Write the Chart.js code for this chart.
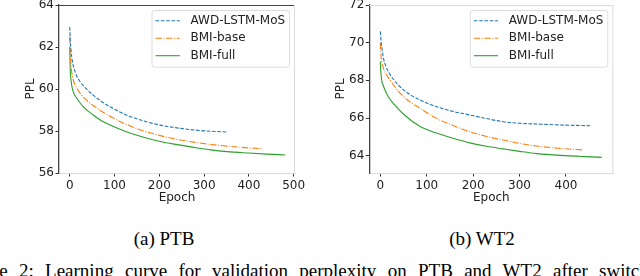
<!DOCTYPE html>
<html>
<head>
<meta charset="utf-8">
<script src="https://cdn.jsdelivr.net/npm/chart.js@4.4.0/dist/chart.umd.min.js"></script>
<style>
body { margin: 0; background: #fff; width: 640px; height: 276px; overflow: hidden; position: relative; }
.plot { position: absolute; top: 0; width: 320px; height: 210px; }
.cap { position: absolute; font-family: "Liberation Serif", serif; font-size: 19px; line-height: 22px; color: #000; white-space: nowrap; }
</style>
</head>
<body>
<div class="plot" style="left:0"><canvas id="ptb" width="320" height="210"></canvas></div>
<div class="plot" style="left:320px"><canvas id="wt2" width="320" height="210"></canvas></div>
<div class="cap" style="top:228px;left:164px;transform:translateX(-50%)">(a) PTB</div>
<div class="cap" style="top:228px;left:482px;transform:translateX(-50%)">(b) WT2</div>
<div class="cap" id="figcap" style="top:260px;left:0"><span id="vis">Figure 2: Learning curve for validation perplexity on PTB and WT2 after switc</span>hing to</div>
<script>
"use strict";

// series names
const seriesNames = ["AWD-LSTM-MoS", "BMI-base", "BMI-full"];

// PTB curves (epoch, ppl)
const ptbEpochAwd = [0, 1, 3, 6, 10, 16, 25, 35, 53, 70, 90, 128, 165, 202, 239, 277, 315, 353];
const ptbPplAwd = [62.95, 62.4, 61.8, 61.3, 60.95, 60.6, 60.3, 60.05, 59.7, 59.42, 59.15, 58.75, 58.48, 58.28, 58.15, 58.05, 57.99, 57.95];
const ptbEpochBase = [0, 1, 3, 6, 10, 16, 23, 35, 53, 70, 90, 128, 165, 202, 240, 277, 315, 351, 390, 430];
const ptbPplBase = [62.5, 61.8, 61.1, 60.6, 60.3, 60.04, 59.8, 59.52, 59.2, 58.95, 58.7, 58.3, 58.0, 57.78, 57.6, 57.47, 57.36, 57.28, 57.21, 57.16];
const ptbEpochFull = [0, 1, 3, 6, 10, 16, 30, 53, 70, 90, 128, 165, 202, 240, 277, 315, 351, 400, 440, 481];
const ptbPplFull = [62.0, 61.0, 60.4, 60.0, 59.75, 59.55, 59.16, 58.75, 58.5, 58.28, 57.95, 57.7, 57.5, 57.35, 57.22, 57.1, 57.02, 56.95, 56.9, 56.86];

// WT2 curves (epoch, ppl)
const wt2EpochAwd = [0, 2, 4, 7, 12, 20, 30, 50, 86, 121, 157, 193, 229, 265, 300, 337, 400, 452];
const wt2PplAwd = [70.6, 70.0, 69.6, 69.15, 68.75, 68.35, 68.0, 67.49, 66.95, 66.6, 66.35, 66.16, 65.97, 65.8, 65.72, 65.68, 65.62, 65.59];
const wt2EpochBase = [0, 1, 3, 6, 12, 21, 33, 50, 86, 121, 157, 193, 229, 265, 300, 337, 390, 438];
const wt2PplBase = [70.0, 69.5, 69.0, 68.7, 68.35, 68.02, 67.6, 67.13, 66.51, 65.98, 65.6, 65.27, 65.02, 64.83, 64.65, 64.51, 64.38, 64.3];
const wt2EpochFull = [0, 1, 3, 6, 10, 18, 30, 50, 86, 121, 157, 193, 229, 265, 300, 337, 400, 440, 477];
const wt2PplFull = [69.0, 68.5, 68.0, 67.75, 67.49, 67.1, 66.72, 66.2, 65.55, 65.2, 64.92, 64.68, 64.5, 64.36, 64.23, 64.11, 64.0, 63.95, 63.91];

// ticks
const ptbXTicks = [0, 100, 200, 300, 400, 500];
const ptbYTicks = [56, 58, 60, 62, 64];
const wt2XTicks = [0, 100, 200, 300, 400];
const wt2YTicks = [64, 66, 68, 70, 72];

const colors = ["#1f77b4", "#ff7f0e", "#2ca02c"];
const dashes = [[3.7, 1.6], [6.4, 1.6, 1, 1.6], []];
const font = "DejaVu Sans";
const fontSize = 12;

function pairs(xs, ys) {
    let out = [];
    for (let i = 0; i < xs.length; i++) {
        out.push({x: xs[i], y: ys[i]});
    }
    return out;
}

// top and right spines
const framePlugin = {
    id: "frame",
    afterDatasetsDraw(chart, args, opts) {
        const ctx = chart.ctx;
        const a = chart.chartArea;
        ctx.save();
        ctx.lineWidth = 1;
        ctx.strokeStyle = opts.top;
        ctx.beginPath();
        ctx.moveTo(a.left, a.top + 0.5);
        ctx.lineTo(a.right, a.top + 0.5);
        ctx.stroke();
        ctx.strokeStyle = opts.right;
        ctx.beginPath();
        ctx.moveTo(a.right - 0.5, a.top);
        ctx.lineTo(a.right - 0.5, a.bottom);
        ctx.stroke();
        ctx.restore();
    }
};

// legend in the upper right corner, like matplotlib
const cornerLegend = {
    id: "cornerLegend",
    afterDraw(chart) {
        const ctx = chart.ctx;
        const a = chart.chartArea;
        const w = 137.5, h = 56.7;
        const x0 = a.right - 6 - w;
        const y0 = a.top + 5;
        ctx.save();
        ctx.fillStyle = "rgba(255,255,255,0.8)";
        ctx.strokeStyle = "#dcdcdc";
        ctx.lineWidth = 1;
        ctx.beginPath();
        ctx.roundRect(x0 + 0.5, y0 + 0.5, w, h, 2.5);
        ctx.fill();
        ctx.stroke();
        ctx.font = fontSize + "px '" + font + "'";
        ctx.textBaseline = "middle";
        chart.data.datasets.forEach(function(ds, i) {
            const yy = y0 + 10.7 + i * 17.5;
            ctx.strokeStyle = ds.borderColor;
            ctx.lineWidth = ds.borderWidth;
            ctx.setLineDash(ds.borderDash);
            ctx.beginPath();
            ctx.moveTo(x0 + 4, yy);
            ctx.lineTo(x0 + 28.3, yy);
            ctx.stroke();
            ctx.setLineDash([]);
            ctx.fillStyle = "#222";
            ctx.fillText(ds.label, x0 + 39, yy);
        });
        ctx.restore();
    }
};

function makeChart(id, series, xMin, xMax, xTicks, yMin, yMax, yTicks, yWidth, rightPad, titlePad, topSpine) {
    const datasets = series.map(function(s, i) {
        return {
            label: seriesNames[i],
            data: pairs(s[0], s[1]),
            borderColor: colors[i],
            borderWidth: 1.1,
            borderDash: dashes[i],
            pointRadius: 0,
            fill: false,
            cubicInterpolationMode: "monotone"
        };
    });
    return new Chart(document.getElementById(id), {
        type: "line",
        data: {datasets: datasets},
        options: {
            responsive: false,
            animation: false,
            layout: {padding: {left: 0, right: rightPad, top: 5, bottom: 0}},
            plugins: {
                legend: {display: false},
                tooltip: {enabled: false},
                frame: {top: topSpine, right: "#dcdcdc"}
            },
            scales: {
                x: {
                    type: "linear",
                    min: xMin,
                    max: xMax,
                    afterBuildTicks: function(scale) {
                        scale.ticks = xTicks.map(function(v) { return {value: v}; });
                    },
                    afterFit: function(scale) {
                        scale.height = 37;
                        scale.paddingLeft = 0;
                        scale.paddingRight = 0;
                    },
                    grid: {drawOnChartArea: false, tickLength: 3.5, tickColor: "#333"},
                    border: {color: "#dcdcdc", width: 1},
                    ticks: {font: {family: font, size: fontSize}, color: "#222", padding: 2, maxRotation: 0},
                    title: {display: true, text: "Epoch", font: {family: font, size: fontSize}, color: "#222", padding: {top: 0, bottom: 4.5}}
                },
                y: {
                    type: "linear",
                    min: yMin,
                    max: yMax,
                    afterBuildTicks: function(scale) {
                        scale.ticks = yTicks.map(function(v) { return {value: v}; });
                    },
                    afterFit: function(scale) {
                        scale.width = yWidth;
                        scale.paddingTop = 0;
                        scale.paddingBottom = 0;
                    },
                    grid: {drawOnChartArea: false, tickLength: 3.5, tickColor: "#333"},
                    border: {color: "#444", width: 1.3},
                    ticks: {font: {family: font, size: fontSize}, color: "#222", padding: 1.5},
                    title: {display: true, text: "PPL", font: {family: font, size: fontSize}, color: "#222", padding: {top: titlePad, bottom: 0}}
                }
            }
        },
        plugins: [framePlugin, cornerLegend]
    });
}

makeChart("ptb",
    [[ptbEpochAwd, ptbPplAwd], [ptbEpochBase, ptbPplBase], [ptbEpochFull, ptbPplFull]],
    -24, 503, ptbXTicks, 56, 64, ptbYTicks, 59, 25, 23.5, "#444");

makeChart("wt2",
    [[wt2EpochAwd, wt2PplAwd], [wt2EpochBase, wt2PplBase], [wt2EpochFull, wt2PplFull]],
    -23.7, 502, wt2XTicks, 63.08, 72, wt2YTicks, 49.3, 26.7, 13.5, "#dcdcdc");

// the caption line is cut at the left edge and justified, as in the source picture
const cap = document.getElementById("figcap");
const vis = document.getElementById("vis");
const probe = document.createElement("span");
probe.textContent = "Figur";
cap.appendChild(probe);
const cut = probe.offsetWidth;
cap.removeChild(probe);
const spaces = 12;
const gap = (640 + cut - vis.offsetWidth) / spaces;
cap.style.wordSpacing = Math.max(gap, 0) + "px";
cap.style.left = (-cut - 1) + "px";
</script>
</body>
</html>
